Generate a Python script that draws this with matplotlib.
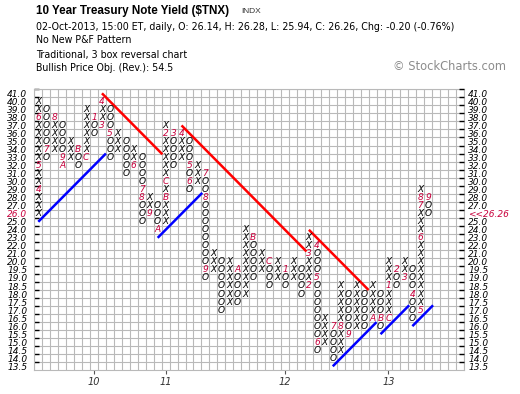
import matplotlib
matplotlib.use("Agg")
import matplotlib.pyplot as plt

# box levels, top row first (1.0 boxes above 20, 0.5 boxes below)
levels = [41.0, 40.0, 39.0, 38.0, 37.0, 36.0, 35.0, 34.0, 33.0, 32.0, 31.0,
          30.0, 29.0, 28.0, 27.0, 26.0, 25.0, 24.0, 23.0, 22.0, 21.0, 20.0,
          19.5, 19.0, 18.5, 18.0, 17.5, 17.0, 16.5, 16.0, 15.5, 15.0, 14.5,
          14.0, 13.5]

# P&F columns
col_type = "XOXOXOXOXOXOXOXOXOXOXOXOXOXOXOXOXOXOXOXOXOXOXOXOXO"
col_low = [26, 33, 34, 32, 33, 32, 33, 36, 37, 33, 34, 31, 32, 25, 26, 24,
           25, 32, 33, 29, 30, 19.0, 19.5, 17.0, 17.5, 17.5, 18.0, 19.0,
           19.5, 18.5, 19.0, 18.5, 19.0, 18.0, 18.5, 14.5, 15.0, 14.0, 14.5,
           15.5, 16.0, 16.0, 16.5, 16.0, 16.5, 18.5, 19.0, 16.5, 17.0, 26]
col_high = [40, 39, 38, 37, 35, 34, 39, 38, 40, 39, 36, 35, 34, 33, 28, 27,
            37, 36, 36, 35, 32, 31, 21, 20, 20, 19.5, 24, 23, 21, 20, 20,
            19.5, 20, 19.5, 23, 22, 16.5, 16.0, 18.5, 18.0, 18.5, 18.0, 18.5,
            18.0, 20, 19.5, 20, 19.5, 29, 28]

# month markers (1-9, A, B, C)
month_col = [0, 0, 0, 1, 2, 3, 3, 5, 6, 7, 8, 8, 9, 12, 13, 13, 14, 15, 16,
             16, 16, 17, 18, 19, 19, 21, 21, 21, 25, 27, 29, 31, 34, 34, 35,
             35, 35, 37, 38, 39, 42, 43, 44, 44, 45, 46, 47, 48, 48, 48, 48,
             49]
month_level = [29, 32, 38, 34, 38, 33, 32, 34, 33, 38, 37, 40, 36, 32, 29, 28,
               26, 24, 28, 30, 36, 36, 36, 32, 30, 31, 28, 19.5, 19.5, 23, 20,
               19.5, 18.5, 21, 22, 19.0, 15.0, 16.0, 16.0, 15.5, 16.5, 16.5,
               16.5, 18.5, 19.5, 19.0, 18.0, 17.0, 23, 27, 28, 28]
month_text = ["4", "5", "6", "7", "8", "9", "A", "B", "C", "1", "3", "4", "5",
              "6", "7", "8", "9", "A", "B", "C", "2", "3", "4", "5", "6", "7",
              "8", "9", "A", "B", "C", "1", "2", "3", "4", "5", "6", "7", "8",
              "9", "A", "B", "C", "1", "2", "3", "4", "5", "6", "7", "8", "9"]

year_col = [7, 16, 31, 44]
year_text = ["10", "11", "12", "13"]

last_level = 26.0
last_text = "<<26.26"

# trend lines: start column, start level, length in boxes
red_col = [8, 18, 34]
red_level = [41, 37, 24]
red_len = [7.6, 15.7, 7.5]
blue_col = [0, 15, 37, 43, 47]
blue_level = [25, 23, 13.5, 15.5, 16.0]
blue_len = [8.5, 5.6, 5.5, 3.6, 2.6]

n_cols = 54
MONTH_RED = "#c8003c"
W, H = 520, 394


def row(v):
    return levels.index(v)


fig = plt.figure(figsize=(W / 100, H / 100), dpi=100)
ax = fig.add_axes([34.3 / W, 1 - 370.3 / H, 429.8 / W, 281 / H])
ax.set_xlim(-0.5, n_cols - 0.5)
ax.set_ylim(len(levels) - 0.5, -0.5)

# grid of boxes
ax.set_xticks([i - 0.5 for i in range(n_cols + 1)], minor=True)
ax.set_yticks([i - 0.5 for i in range(len(levels))], minor=True)
ax.grid(which="minor", color="#b9b9b9", linewidth=0.8)
for s in ax.spines.values():
    s.set_color("#b9b9b9")
    s.set_linewidth(0.8)

# X and O boxes
marks = {(c, row(v)): t for c, v, t in zip(month_col, month_level, month_text)}
for c, (t, lo, hi) in enumerate(zip(col_type, col_low, col_high)):
    for r in range(row(hi), row(lo) + 1):
        if (c, r) in marks:
            ax.text(c, r, marks[(c, r)], color=MONTH_RED, fontsize=6.5,
                    style="italic", ha="center", va="center")
        else:
            ax.text(c, r, t, color="black", fontsize=6.5, style="italic",
                    ha="center", va="center")

# trend lines (45 degrees in box units)
for c, v, n in zip(red_col, red_level, red_len):
    r = row(v)
    ax.plot([c, c + n], [r, r + n], color="red", linewidth=1.8,
            solid_capstyle="butt")
for c, v, n in zip(blue_col, blue_level, blue_len):
    r = row(v)
    ax.plot([c, c + n], [r, r - n], color="blue", linewidth=1.8,
            solid_capstyle="butt")

# axes labels
labels = ["%.1f" % v for v in levels]
ax.set_yticks(range(len(levels)))
ax.set_yticklabels(labels, fontsize=6.5, style="italic")
ax.tick_params(axis="y", which="major", length=0, pad=5)
ax.tick_params(axis="y", which="minor", direction="in", length=3.5,
               width=1, color="black")
ax.get_yticklabels()[row(last_level)].set_color(MONTH_RED)

ax.set_xticks(year_col)
ax.set_xticklabels(year_text, fontsize=7, style="italic", color="#333333")
ax.tick_params(axis="x", which="major", direction="out", length=3,
               color="#555555", pad=2)
ax.tick_params(axis="x", which="minor", length=0)

ax2 = ax.twinx()
ax2.set_ylim(ax.get_ylim())
right_labels = [last_text if v == last_level else l
                for v, l in zip(levels, labels)]
ax2.set_yticks(range(len(levels)))
ax2.set_yticklabels(right_labels, fontsize=6.5, style="italic")
ax2.set_yticks([i - 0.5 for i in range(len(levels))], minor=True)
ax2.tick_params(axis="y", which="major", length=0, pad=3)
ax2.tick_params(axis="y", which="minor", direction="in", length=3.5,
                width=1, color="black")
ax2.get_yticklabels()[row(last_level)].set_color(MONTH_RED)
for s in ax2.spines.values():
    s.set_visible(False)

# header
fig.text(36 / W, 1 - 11 / H, "10 Year Treasury Note Yield ($TNX)",
         family="Liberation Sans", fontweight="bold", fontsize=8.4, va="center")
fig.text(241 / W, 1 - 11.5 / H, "INDX", family="Liberation Sans",
         fontsize=6, color="#333333", va="center")
header = ["02-Oct-2013, 15:00 ET, daily, O: 26.14, H: 26.28, L: 25.94, "
          "C: 26.26, Chg: -0.20 (-0.76%)",
          "No New P&F Pattern",
          "Traditional, 3 box reversal chart",
          "Bullish Price Obj. (Rev.): 54.5"]
for y, line in zip([27.5, 40, 55, 68], header):
    fig.text(36 / W, 1 - y / H, line, family="DejaVu Sans",
             fontsize=6.85, va="center")
fig.text(393 / W, 1 - 66 / H, "\u00a9 StockCharts.com", fontsize=8.3,
         color="#8c8c8c", va="center")

fig.savefig("out.png", dpi=100)
